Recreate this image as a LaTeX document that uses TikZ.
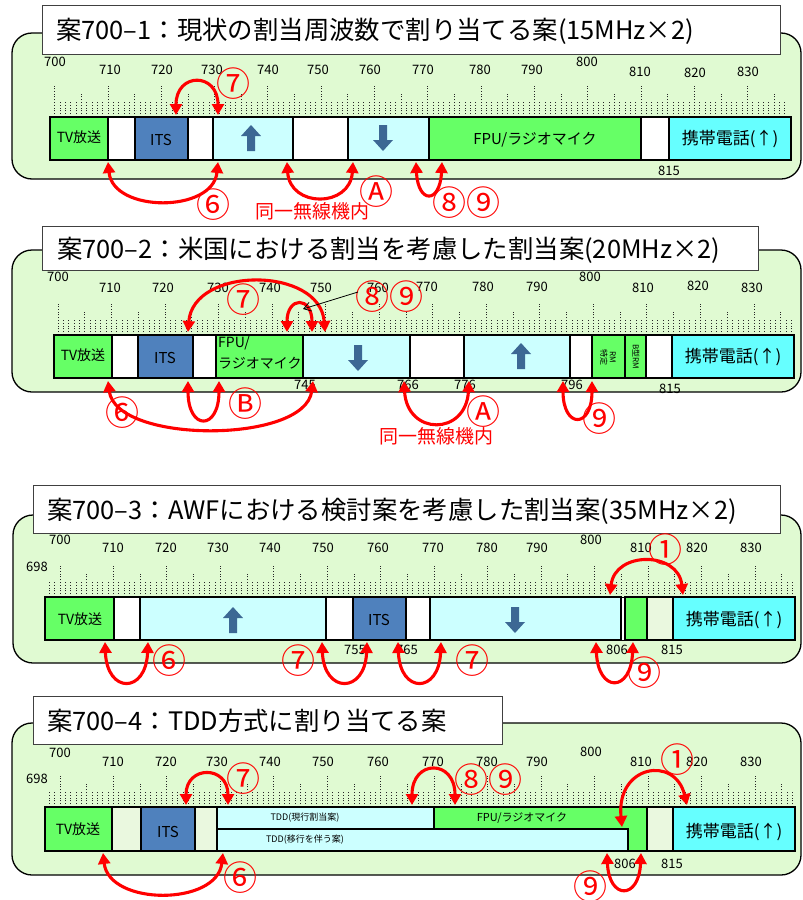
\documentclass[tikz,border=0pt]{standalone}
\usepackage{fontspec}
\setmainfont{Noto Sans CJK JP}
\usetikzlibrary{arrows.meta}
\definecolor{bg}{HTML}{E0FAD2}
\definecolor{bgl}{HTML}{EAF8DF}
\definecolor{tvg}{HTML}{66FF66}
\definecolor{itsb}{HTML}{4F81BD}
\definecolor{lcy}{HTML}{CCFFFF}
\definecolor{cya}{HTML}{66FFFF}
\definecolor{arrb}{HTML}{3C6894}
\newcommand\drawticks[4]{%
  \foreach \f in {#3,...,837}{%
    \pgfmathsetmacro\tx{#1+(\f-700)*#2}%
    \pgfmathtruncatemacro\mten{mod(\f,10)}%
    \pgfmathtruncatemacro\mfive{mod(\f,5)}%
    \ifnum\mten=0 \def\tl{31}\else\ifnum\mfive=0 \def\tl{24}\else\def\tl{16}\fi\fi
    \draw[tickline] (\tx,#4) -- (\tx,#4-\tl);
  }}
\newcommand\uparr[2]{\fill[blockarr] (#1-10,#2-2) -- (#1,#2-13) -- (#1+10,#2-2) -- (#1+4,#2-2) -- (#1+4,#2+13) -- (#1-4,#2+13) -- (#1-4,#2-2) -- cycle;}
\newcommand\dnarr[2]{\fill[blockarr] (#1-10,#2+2) -- (#1,#2+13) -- (#1+10,#2+2) -- (#1+4,#2+2) -- (#1+4,#2-13) -- (#1-4,#2-13) -- (#1-4,#2+2) -- cycle;}
\tikzset{
  panel/.style={draw=black, line width=1.3pt, fill=bg, rounded corners=20pt},
  titlebox/.style={draw=black!75, line width=1pt, fill=white},
  ttl/.style={font=\fontsize{25.4}{25.4}\selectfont, inner sep=0pt, anchor=west},
  seg/.style={draw=black, line width=1.3pt},
  tickline/.style={line width=0.9pt, dash pattern=on 1pt off 1.8pt, black!85},
  scl/.style={font=\fontsize{13}{13}\selectfont, inner sep=0pt},
  lbl/.style={inner sep=0pt, font=\fontsize{14}{14}\selectfont},
  big/.style={inner sep=0pt, font=\fontsize{17}{17}\selectfont},
  tiny/.style={inner sep=0pt, font=\fontsize{9}{9}\selectfont},
  redarc/.style={draw=red, line width=3.1pt, {Triangle[length=11pt,width=12pt]}-{Triangle[length=11pt,width=12pt]}},
  circ/.style={text=red, font=\fontsize{34}{34}\selectfont, inner sep=0pt},
  redtxt/.style={text=red, font=\fontsize{19}{19}\selectfont, inner sep=0pt},
  blockarr/.style={fill=arrb, draw=none},
}
\begin{document}
\begin{tikzpicture}[x=1pt,y=-1pt]
\useasboundingbox (0,0) rectangle (803,900);

%%%%%%%%%%%%%%%% Panel 1
\draw[panel] (12,33) rectangle (801,179);
\draw[titlebox] (42,5) rectangle (780,54);
\node[ttl] (t1) at (56,31) {案700–1：現状の割当周波数で割り当てる案(15MHz×2)};
\drawticks{54.7}{5.33}{700}{117}
\foreach \f/\x/\y in {700/55/62,710/110/70,720/162/70,730/212/70,740/268/70,750/318/70,760/370/70,770/423/70,780/480/70,790/532/70,800/587/62,810/640/72,820/695/73,830/748/72}
  \node[scl] (p1s\f) at (\x,\y) {\f};
\node[scl] (p1b815) at (669,171) {815};
\draw[seg, fill=tvg] (50,117) rectangle (108,160);
\draw[seg, fill=white] (108,117) rectangle (135,160);
\draw[seg, fill=itsb] (135,117) rectangle (188,160);
\draw[seg, fill=white] (188,117) rectangle (213,160);
\draw[seg, fill=lcy] (213,117) rectangle (293,160);
\draw[seg, fill=white] (293,117) rectangle (348,160);
\draw[seg, fill=lcy] (348,117) rectangle (429,160);
\draw[seg, fill=tvg] (429,117) rectangle (641,160);
\draw[seg, fill=white] (641,117) rectangle (669,160);
\draw[seg, fill=cya] (669,117) rectangle (791,160);
\node[lbl] (p1tv) at (79,137) {TV放送};
\node[lbl, font=\fontsize{15}{15}\selectfont] (p1its) at (161,140) {ITS};
\node[lbl, font=\fontsize{15}{15}\selectfont] (p1fpu) at (535,140) {FPU/ラジオマイク};
\node[big] (p1mob) at (730,139) {携帯電話(↑)};
\uparr{251}{138}
\dnarr{383}{138}
% arcs
\coordinate (p1a7s) at (176,115); \coordinate (p1a7e) at (218,115);
\draw[redarc] (p1a7s) .. controls +(0,-43) and +(0,-43) .. (p1a7e);
\node[circ] (p1c7) at (233,84) {⑦};
\coordinate (p1a6s) at (108,162); \coordinate (p1a6e) at (218,162);
\draw[redarc] (p1a6s) .. controls +(5,51) and +(-5,51) .. (p1a6e);
\node[circ] (p1c6) at (213,205) {⑥};
\coordinate (p1aAs) at (287,162); \coordinate (p1aAe) at (353,162);
\draw[redarc] (p1aAs) .. controls +(3,46) and +(-3,46) .. (p1aAe);
\node[circ] (p1cA) at (376,192) {Ⓐ};
\node[redtxt] (p1same) at (312,211) {同一無線機内};
\coordinate (p1a8s) at (416,162); \coordinate (p1a8e) at (442,162);
\draw[redarc] (p1a8s) .. controls +(2,42) and +(-2,42) .. (p1a8e);
\node[circ] (p1c89) at (466,203) {⑧⑨};

%%%%%%%%%%%%%%%% Panel 2
\draw[panel] (12,250) rectangle (801,392);
\draw[titlebox] (42,226) rectangle (758,270);
\node[ttl] (t2) at (57,250) {案700–2：米国における割当を考慮した割当案(20MHz×2)};
\drawticks{58}{5.354}{700}{335}
\foreach \f/\x/\y in {700/58/277,710/110/288,720/163/288,730/218/288,740/270/288,750/321/288,760/378/288,770/427/287,780/483/287,790/537/287,800/590/277,810/643/288,820/698/286,830/752/288}
  \node[scl] (p2s\f) at (\x,\y) {\f};
\foreach \f/\x/\y in {745/305/385,766/408/385,776/465/385,796/572/385,815/670/389}
  \node[scl] (p2b\f) at (\x,\y) {\f};
\draw[seg, fill=tvg] (54,335) rectangle (112,378);
\draw[seg, fill=white] (112,335) rectangle (138,378);
\draw[seg, fill=itsb] (138,335) rectangle (193,378);
\draw[seg, fill=white] (193,335) rectangle (216,378);
\draw[seg, fill=tvg] (216,335) rectangle (303,378);
\draw[seg, fill=lcy] (303,335) rectangle (410,378);
\draw[seg, fill=white] (410,335) rectangle (464,378);
\draw[seg, fill=lcy] (464,335) rectangle (570,378);
\draw[seg, fill=white] (570,335) rectangle (592,378);
\draw[seg, fill=tvg] (592,335) rectangle (625,378);
\draw[seg, fill=tvg] (625,335) rectangle (646,378);
\draw[seg, fill=white] (646,335) rectangle (672,378);
\draw[seg, fill=cya] (672,335) rectangle (794,378);
\node[lbl] (p2tv) at (83,355) {TV放送};
\node[lbl, font=\fontsize{15}{15}\selectfont] (p2its) at (165,358) {ITS};
\node[lbl, anchor=west] (p2fpu1) at (218,343) {FPU/};
\node[lbl, anchor=west] (p2fpu2) at (218,363) {ラジオマイク};
\node[inner sep=0pt, font=\fontsize{8}{9}\selectfont, rotate=-90, align=center] (p2rm) at (608,357) {RM\\特定};
\node[inner sep=0pt, font=\fontsize{8}{8}\selectfont, rotate=-90] (p2brm) at (636,357) {B型RM};
\node[big] (p2mob) at (733,357) {携帯電話(↑)};
\dnarr{358}{358}
\uparr{521}{356}
% arcs
\coordinate (p2a7s) at (188,332); \coordinate (p2a7e) at (325,332);
\draw[redarc] (p2a7s) .. controls +(5,-66) and +(-5,-66) .. (p2a7e);
\node[circ] (p2c7) at (243,300) {⑦};
\coordinate (p2a8s) at (287,332); \coordinate (p2a8e) at (312,332);
\draw[redarc] (p2a8s) .. controls +(0,-36) and +(0,-36) .. (p2a8e);
\node[circ] (p2c89) at (389,297) {⑧⑨};
\coordinate (p2ptr) at (303,309);
\coordinate (p2ptrs) at (358,292);
\draw[black, line width=0.8pt, -{Straight Barb[length=7pt,width=9pt]}] (p2ptrs) -- (p2ptr);
\coordinate (p2a6s) at (108,381); \coordinate (p2a6e) at (313,381);
\draw[redarc] (p2a6s) .. controls +(8,63) and +(-8,63) .. (p2a6e);
\node[circ] (p2c6) at (122,413) {⑥};
\coordinate (p2aBs) at (188,381); \coordinate (p2aBe) at (219,381);
\draw[redarc] (p2aBs) .. controls +(0,50) and +(0,50) .. (p2aBe);
\node[circ] (p2cB) at (245,404) {Ⓑ};
\coordinate (p2aAs) at (404,381); \coordinate (p2aAe) at (469,381);
\draw[redarc] (p2aAs) .. controls +(3,55) and +(-3,55) .. (p2aAe);
\node[circ] (p2cA) at (483,412) {Ⓐ};
\node[redtxt] (p2same) at (436,436) {同一無線機内};
\coordinate (p2a9s) at (563,381); \coordinate (p2a9e) at (592,381);
\draw[redarc] (p2a9s) .. controls +(0,48) and +(0,48) .. (p2a9e);
\node[circ] (p2c9) at (599,419) {⑨};

%%%%%%%%%%%%%%%% Panel 3
\draw[panel] (13,515) rectangle (801,663);
\draw[titlebox] (33,485) rectangle (780,533);
\node[ttl] (t3) at (47,511) {案700–3：AWFにおける検討案を考慮した割当案(35MHz×2)};
\drawticks{60}{5.346}{698}{597}
\foreach \f/\x/\y in {700/60/540,710/113/548,720/166/548,730/218/548,740/270/548,750/323/548,760/378/548,770/433/548,780/487/548,790/537/548,800/591/540,810/641/548,820/697/548,830/751/548}
  \node[scl] (p3s\f) at (\x,\y) {\f};
\node[scl] (p3s698) at (37,567) {698};
\foreach \f/\x/\y in {755/355/650,765/407/650,806/617/650,815/672/650}
  \node[scl] (p3b\f) at (\x,\y) {\f};
\draw[seg, fill=tvg] (45,597) rectangle (114,640);
\draw[seg, fill=white] (114,597) rectangle (140,640);
\draw[seg, fill=lcy] (140,597) rectangle (326,640);
\draw[seg, fill=white] (326,597) rectangle (353,640);
\draw[seg, fill=itsb] (353,597) rectangle (406,640);
\draw[seg, fill=white] (406,597) rectangle (430,640);
\draw[seg, fill=lcy] (430,597) rectangle (621,640);
\draw[seg, fill=white, line width=0.6pt] (621,597) rectangle (625,640);
\draw[seg, fill=tvg] (625,597) rectangle (647,640);
\draw[seg, fill=bgl] (647,597) rectangle (673,640);
\draw[seg, fill=cya] (673,597) rectangle (795,640);
\node[lbl] (p3tv) at (80,619) {TV放送};
\node[lbl, font=\fontsize{15}{15}\selectfont] (p3its) at (379,620) {ITS};
\node[big] (p3mob) at (734,620) {携帯電話(↑)};
\uparr{233}{620}
\dnarr{515}{620}
% arcs
\coordinate (p3a6s) at (105,642); \coordinate (p3a6e) at (148,642);
\draw[redarc] (p3a6s) .. controls +(2,52) and +(-2,52) .. (p3a6e);
\node[circ] (p3c6) at (169,661) {⑥};
\coordinate (p3a7s) at (322,642); \coordinate (p3a7e) at (367,642);
\draw[redarc] (p3a7s) .. controls +(2,52) and +(-2,52) .. (p3a7e);
\node[circ] (p3c7a) at (298,661) {⑦};
\coordinate (p3b7s) at (398,642); \coordinate (p3b7e) at (441,642);
\draw[redarc] (p3b7s) .. controls +(2,52) and +(-2,52) .. (p3b7e);
\node[circ] (p3c7b) at (472,661) {⑦};
\coordinate (p3a9s) at (596,642); \coordinate (p3a9e) at (633,642);
\draw[redarc] (p3a9s) .. controls +(2,51) and +(-2,51) .. (p3a9e);
\node[circ] (p3c9) at (644,673) {⑨};
\coordinate (p3a1s) at (610,595); \coordinate (p3a1e) at (683,595);
\draw[redarc] (p3a1s) .. controls +(5,-44) and +(-5,-44) .. (p3a1e);
\node[circ] (p3c1) at (665,550) {①};

%%%%%%%%%%%%%%%% Panel 4
\draw[panel] (12,723) rectangle (801,875);
\draw[titlebox] (33,696) rectangle (502,744);
\node[ttl] (t4) at (47,721) {案700–4：TDD方式に割り当てる案};
\drawticks{60}{5.346}{698}{807}
\foreach \f/\x/\y in {700/60/753,710/113/762,720/166/762,730/217/762,740/270/762,750/323/762,760/378/762,770/433/762,780/487/762,790/537/762,800/591/752,810/641/762,820/697/762,830/751/762}
  \node[scl] (p4s\f) at (\x,\y) {\f};
\node[scl] (p4s698) at (37,779) {698};
\foreach \f/\x/\y in {806/625/864,815/672/864}
  \node[scl] (p4b\f) at (\x,\y) {\f};
\draw[seg, fill=tvg] (45,807) rectangle (112,851);
\draw[seg, fill=bgl] (112,807) rectangle (141,851);
\draw[seg, fill=itsb] (141,807) rectangle (195,851);
\draw[seg, fill=bgl] (195,807) rectangle (217,851);
\draw[seg, fill=tvg] (434,807) rectangle (647,851);
\draw[seg, fill=lcy] (217,807) rectangle (434,829);
\draw[seg, fill=lcy] (217,829) rectangle (628,851);
\draw[seg, fill=bgl] (647,807) rectangle (673,851);
\draw[seg, fill=cya] (673,807) rectangle (795,851);
\node[lbl] (p4tv) at (78,829) {TV放送};
\node[lbl, font=\fontsize{15}{15}\selectfont] (p4its) at (168,832) {ITS};
\node[tiny] (p4tdd1) at (305,818) {TDD(現行割当案)};
\node[tiny] (p4tdd2) at (305,840) {TDD(移行を伴う案)};
\node[lbl, font=\fontsize{11}{11}\selectfont] (p4fpu) at (522,818) {FPU/ラジオマイク};
\node[big] (p4mob) at (734,832) {携帯電話(↑)};
% arcs
\coordinate (p4a7s) at (186,805); \coordinate (p4a7e) at (228,805);
\draw[redarc] (p4a7s) .. controls +(0,-40) and +(0,-40) .. (p4a7e);
\node[circ] (p4c7) at (243,779) {⑦};
\coordinate (p4a6s) at (103,853); \coordinate (p4a6e) at (223,853);
\draw[redarc] (p4a6s) .. controls +(6,53) and +(-6,53) .. (p4a6e);
\node[circ] (p4c6) at (240,878) {⑥};
\coordinate (p4a8s) at (412,805); \coordinate (p4a8e) at (455,805);
\draw[redarc] (p4a8s) .. controls +(0,-46) and +(0,-46) .. (p4a8e);
\node[circ] (p4c89) at (488,780) {⑧⑨};
\coordinate (p4a1s) at (622,827); \coordinate (p4a1e) at (687,805);
\draw[redarc] (p4a1s) .. controls +(-6,-62) and +(-12,-50) .. (p4a1e);
\node[circ] (p4c1) at (677,760) {①};
\coordinate (p4a9s) at (607,853); \coordinate (p4a9e) at (641,853);
\draw[redarc] (p4a9s) .. controls +(2,47) and +(-2,47) .. (p4a9e);
\node[circ] (p4c9) at (590,887) {⑨};
\end{tikzpicture}
\end{document}
